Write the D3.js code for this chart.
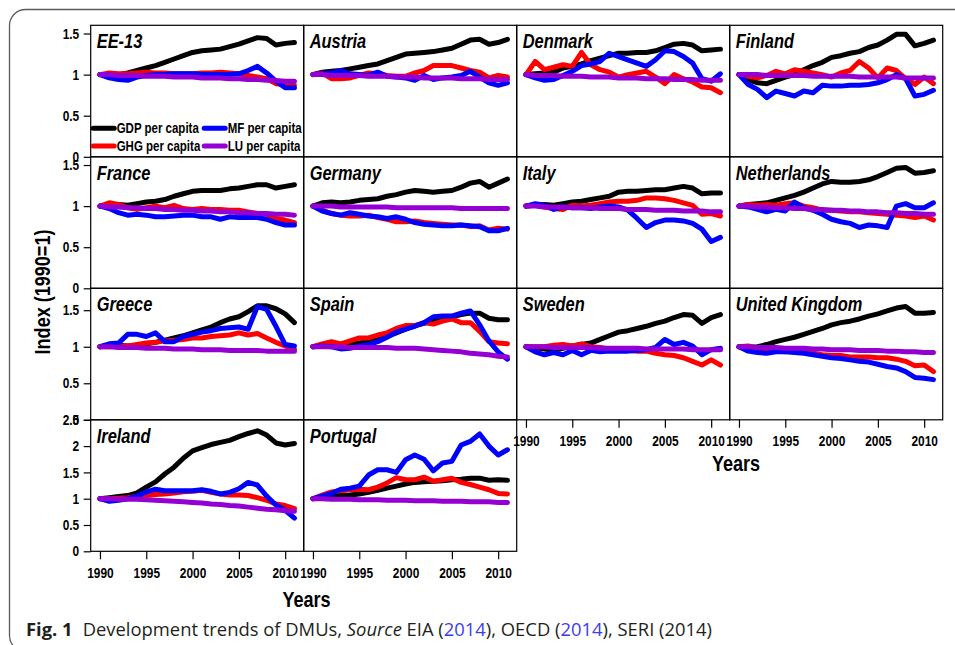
<!DOCTYPE html>
<html>
<head>
<meta charset="utf-8">
<script src="https://cdn.jsdelivr.net/npm/d3@7"></script>
<style>
  html, body { margin: 0; padding: 0; background: #fff; }
  svg { display: block; }
  .narrow { font-family: 'Liberation Sans', Arial, sans-serif; font-weight: bold; }
</style>
</head>
<body>
<svg id="chart" width="955" height="645"></svg>
<script>
const years = [1990, 1991, 1992, 1993, 1994, 1995, 1996, 1997, 1998, 1999, 2000,
  2001, 2002, 2003, 2004, 2005, 2006, 2007, 2008, 2009, 2010, 2011];

const countries = ['EE-13', 'Austria', 'Denmark', 'Finland',
  'France', 'Germany', 'Italy', 'Netherlands',
  'Greece', 'Spain', 'Sweden', 'United Kingdom',
  'Ireland', 'Portugal'];

// one row per country, same order as countries
const gdpPerCapita = [
  [1.00, 1.00, 1.00, 1.02, 1.05, 1.08, 1.11, 1.15, 1.19, 1.23, 1.27, 1.29, 1.30, 1.31, 1.34, 1.37, 1.41, 1.45, 1.44, 1.36, 1.38, 1.39],
  [1.00, 1.03, 1.04, 1.05, 1.07, 1.09, 1.11, 1.13, 1.17, 1.21, 1.25, 1.26, 1.27, 1.28, 1.30, 1.32, 1.37, 1.42, 1.43, 1.37, 1.39, 1.43],
  [1.00, 1.01, 1.02, 1.03, 1.08, 1.10, 1.13, 1.17, 1.20, 1.23, 1.26, 1.26, 1.27, 1.27, 1.29, 1.33, 1.37, 1.38, 1.36, 1.29, 1.30, 1.31],
  [1.00, 0.94, 0.90, 0.89, 0.93, 0.97, 1.00, 1.06, 1.11, 1.15, 1.21, 1.23, 1.26, 1.28, 1.33, 1.36, 1.42, 1.49, 1.49, 1.35, 1.38, 1.42],
  [1.00, 1.01, 1.02, 1.01, 1.03, 1.05, 1.06, 1.08, 1.12, 1.15, 1.18, 1.19, 1.19, 1.19, 1.21, 1.22, 1.24, 1.26, 1.26, 1.22, 1.24, 1.26],
  [1.00, 1.04, 1.05, 1.04, 1.05, 1.07, 1.08, 1.09, 1.12, 1.14, 1.17, 1.19, 1.18, 1.17, 1.18, 1.19, 1.23, 1.28, 1.30, 1.23, 1.28, 1.33],
  [1.00, 1.01, 1.02, 1.01, 1.03, 1.05, 1.06, 1.08, 1.10, 1.12, 1.17, 1.18, 1.18, 1.19, 1.20, 1.20, 1.22, 1.24, 1.22, 1.15, 1.16, 1.16],
  [1.00, 1.02, 1.03, 1.04, 1.07, 1.10, 1.13, 1.17, 1.22, 1.27, 1.30, 1.29, 1.29, 1.30, 1.32, 1.36, 1.41, 1.46, 1.47, 1.40, 1.41, 1.43],
  [1.00, 1.02, 1.02, 1.01, 1.02, 1.04, 1.06, 1.09, 1.12, 1.15, 1.19, 1.23, 1.27, 1.33, 1.38, 1.41, 1.48, 1.56, 1.56, 1.52, 1.45, 1.33],
  [1.00, 1.02, 1.02, 1.01, 1.03, 1.05, 1.07, 1.10, 1.14, 1.19, 1.24, 1.29, 1.32, 1.35, 1.38, 1.41, 1.44, 1.46, 1.46, 1.39, 1.37, 1.37],
  [1.00, 0.99, 0.97, 0.95, 0.98, 1.01, 1.03, 1.05, 1.10, 1.15, 1.20, 1.22, 1.25, 1.28, 1.32, 1.35, 1.40, 1.44, 1.43, 1.32, 1.40, 1.44],
  [1.00, 0.99, 1.00, 1.03, 1.07, 1.10, 1.13, 1.17, 1.21, 1.25, 1.30, 1.33, 1.35, 1.38, 1.42, 1.45, 1.49, 1.53, 1.55, 1.46, 1.46, 1.47],
  [1.00, 1.02, 1.04, 1.06, 1.11, 1.22, 1.32, 1.47, 1.60, 1.77, 1.91, 1.97, 2.03, 2.07, 2.11, 2.18, 2.24, 2.29, 2.21, 2.06, 2.02, 2.05],
  [1.00, 1.03, 1.05, 1.06, 1.07, 1.09, 1.12, 1.16, 1.20, 1.24, 1.28, 1.31, 1.32, 1.33, 1.34, 1.36, 1.37, 1.39, 1.39, 1.35, 1.36, 1.35]
];

const ghgPerCapita = [
  [1.00, 1.02, 1.01, 1.01, 1.02, 1.03, 1.02, 1.02, 1.01, 1.01, 1.01, 1.02, 1.02, 1.03, 1.02, 1.01, 0.99, 0.97, 0.95, 0.89, 0.88, 0.87],
  [1.00, 1.02, 0.95, 0.95, 0.96, 0.99, 1.02, 1.01, 0.99, 0.98, 0.98, 1.02, 1.05, 1.11, 1.11, 1.11, 1.08, 1.05, 1.03, 0.96, 0.99, 0.97],
  [1.00, 1.16, 1.06, 1.09, 1.12, 1.10, 1.27, 1.12, 1.06, 1.03, 0.97, 1.00, 1.02, 1.04, 0.97, 0.89, 1.00, 0.95, 0.91, 0.85, 0.84, 0.78],
  [1.00, 0.98, 0.96, 0.99, 1.04, 1.01, 1.06, 1.04, 1.02, 1.00, 0.97, 1.02, 1.05, 1.16, 1.08, 0.96, 1.08, 1.05, 0.95, 0.88, 0.97, 0.89],
  [1.00, 1.04, 1.02, 0.98, 0.96, 0.98, 1.00, 0.98, 1.01, 0.97, 0.96, 0.97, 0.96, 0.96, 0.95, 0.95, 0.93, 0.91, 0.90, 0.85, 0.83, 0.80],
  [1.00, 0.95, 0.91, 0.89, 0.88, 0.88, 0.89, 0.86, 0.84, 0.81, 0.81, 0.82, 0.80, 0.79, 0.78, 0.77, 0.77, 0.75, 0.76, 0.71, 0.73, 0.72],
  [1.00, 1.01, 0.99, 0.97, 0.96, 1.01, 1.00, 1.01, 1.03, 1.05, 1.06, 1.06, 1.07, 1.10, 1.10, 1.09, 1.07, 1.04, 1.01, 0.90, 0.91, 0.88],
  [1.00, 1.02, 1.01, 1.02, 1.01, 1.03, 1.04, 1.00, 0.98, 0.95, 0.95, 0.94, 0.93, 0.93, 0.92, 0.91, 0.90, 0.89, 0.88, 0.86, 0.88, 0.83],
  [1.00, 1.00, 1.01, 1.01, 1.03, 1.05, 1.06, 1.08, 1.09, 1.10, 1.12, 1.12, 1.14, 1.15, 1.16, 1.19, 1.16, 1.18, 1.12, 1.06, 1.01, 0.96],
  [1.00, 1.04, 1.07, 1.04, 1.08, 1.12, 1.12, 1.16, 1.19, 1.25, 1.29, 1.29, 1.33, 1.31, 1.35, 1.38, 1.33, 1.33, 1.21, 1.07, 1.05, 1.04],
  [1.00, 1.00, 1.00, 1.02, 1.03, 1.01, 1.04, 1.00, 0.99, 0.97, 0.96, 0.95, 0.94, 0.94, 0.91, 0.89, 0.88, 0.85, 0.80, 0.75, 0.82, 0.75],
  [1.00, 1.01, 0.98, 0.96, 0.94, 0.93, 0.95, 0.92, 0.91, 0.89, 0.88, 0.88, 0.86, 0.86, 0.86, 0.85, 0.85, 0.83, 0.80, 0.74, 0.75, 0.66],
  [1.00, 1.00, 1.01, 1.02, 1.04, 1.06, 1.08, 1.09, 1.11, 1.13, 1.14, 1.16, 1.12, 1.09, 1.07, 1.07, 1.06, 1.02, 0.97, 0.90, 0.87, 0.81],
  [1.00, 1.07, 1.13, 1.15, 1.17, 1.18, 1.17, 1.22, 1.30, 1.40, 1.36, 1.36, 1.41, 1.33, 1.36, 1.39, 1.31, 1.27, 1.22, 1.17, 1.10, 1.09]
];

const mfPerCapita = [
  [1.00, 0.96, 0.94, 0.93, 0.97, 0.99, 1.00, 1.00, 1.01, 1.01, 1.01, 1.00, 1.00, 1.00, 1.00, 1.01, 1.05, 1.10, 1.02, 0.92, 0.84, 0.84],
  [1.00, 1.01, 1.02, 1.05, 1.01, 1.00, 0.99, 1.03, 0.98, 0.97, 0.96, 0.93, 0.99, 0.94, 0.96, 0.97, 0.99, 1.04, 0.97, 0.90, 0.87, 0.90],
  [1.00, 0.96, 0.93, 0.94, 0.99, 1.04, 1.11, 1.13, 1.16, 1.26, 1.22, 1.18, 1.14, 1.10, 1.18, 1.29, 1.28, 1.22, 1.14, 0.95, 0.92, 1.01],
  [1.00, 0.88, 0.82, 0.72, 0.80, 0.77, 0.74, 0.80, 0.78, 0.87, 0.86, 0.86, 0.87, 0.87, 0.88, 0.90, 0.94, 1.00, 0.95, 0.74, 0.76, 0.81],
  [1.00, 0.97, 0.92, 0.89, 0.90, 0.89, 0.87, 0.87, 0.88, 0.89, 0.89, 0.87, 0.87, 0.84, 0.87, 0.86, 0.86, 0.86, 0.84, 0.80, 0.77, 0.77],
  [1.00, 0.94, 0.91, 0.89, 0.92, 0.90, 0.88, 0.87, 0.85, 0.87, 0.84, 0.80, 0.78, 0.77, 0.76, 0.76, 0.77, 0.76, 0.75, 0.70, 0.70, 0.73],
  [1.00, 1.03, 1.01, 0.96, 0.99, 0.98, 0.98, 0.97, 0.99, 1.00, 0.99, 0.95, 0.85, 0.74, 0.80, 0.83, 0.83, 0.82, 0.79, 0.72, 0.57, 0.62],
  [1.00, 0.99, 0.96, 0.93, 0.96, 0.94, 1.05, 0.98, 0.95, 0.90, 0.84, 0.81, 0.79, 0.74, 0.77, 0.76, 0.74, 1.00, 1.03, 0.98, 0.98, 1.04],
  [1.00, 1.04, 1.05, 1.17, 1.17, 1.14, 1.19, 1.07, 1.07, 1.14, 1.17, 1.20, 1.22, 1.25, 1.26, 1.27, 1.24, 1.55, 1.51, 1.28, 1.03, 1.01],
  [1.00, 1.01, 1.00, 0.97, 0.98, 1.01, 1.03, 1.07, 1.13, 1.20, 1.24, 1.28, 1.33, 1.41, 1.42, 1.42, 1.46, 1.49, 1.30, 1.08, 0.93, 0.83],
  [1.00, 0.93, 0.89, 0.92, 0.89, 0.95, 0.89, 0.95, 0.93, 0.94, 0.94, 0.94, 0.95, 0.96, 0.99, 1.10, 1.03, 1.06, 1.01, 0.89, 0.96, 0.98],
  [1.00, 0.94, 0.92, 0.91, 0.93, 0.93, 0.92, 0.91, 0.89, 0.87, 0.85, 0.84, 0.82, 0.80, 0.79, 0.76, 0.73, 0.71, 0.66, 0.58, 0.57, 0.55],
  [1.00, 0.95, 0.97, 1.00, 1.05, 1.13, 1.18, 1.15, 1.15, 1.15, 1.15, 1.17, 1.14, 1.09, 1.12, 1.19, 1.31, 1.26, 1.05, 0.88, 0.78, 0.63],
  [1.00, 1.05, 1.10, 1.18, 1.20, 1.24, 1.45, 1.55, 1.55, 1.50, 1.74, 1.83, 1.75, 1.53, 1.68, 1.71, 2.02, 2.09, 2.23, 2.00, 1.83, 1.93]
];

const luPerCapita = [
  [1.00, 1.00, 0.99, 0.99, 0.99, 0.98, 0.98, 0.98, 0.97, 0.97, 0.97, 0.96, 0.96, 0.96, 0.95, 0.95, 0.94, 0.94, 0.93, 0.93, 0.92, 0.92],
  [1.00, 1.00, 0.99, 0.99, 0.99, 0.99, 0.98, 0.98, 0.98, 0.97, 0.97, 0.97, 0.96, 0.96, 0.96, 0.96, 0.95, 0.95, 0.95, 0.94, 0.94, 0.94],
  [1.00, 0.99, 0.99, 0.99, 0.98, 0.98, 0.98, 0.97, 0.97, 0.97, 0.96, 0.96, 0.96, 0.95, 0.95, 0.95, 0.94, 0.94, 0.94, 0.93, 0.93, 0.93],
  [1.00, 1.00, 1.00, 0.99, 0.99, 0.99, 0.99, 0.99, 0.98, 0.98, 0.98, 0.98, 0.98, 0.97, 0.97, 0.97, 0.97, 0.97, 0.96, 0.96, 0.96, 0.96],
  [1.00, 0.99, 0.99, 0.98, 0.98, 0.97, 0.97, 0.96, 0.96, 0.95, 0.95, 0.94, 0.94, 0.93, 0.93, 0.92, 0.92, 0.91, 0.91, 0.90, 0.90, 0.89],
  [1.00, 1.00, 1.00, 0.99, 0.99, 0.99, 0.99, 0.99, 0.99, 0.98, 0.98, 0.98, 0.98, 0.98, 0.98, 0.98, 0.97, 0.97, 0.97, 0.97, 0.97, 0.97],
  [1.00, 1.00, 0.99, 0.99, 0.99, 0.98, 0.98, 0.98, 0.97, 0.97, 0.97, 0.96, 0.96, 0.96, 0.95, 0.95, 0.95, 0.94, 0.94, 0.94, 0.93, 0.93],
  [1.00, 1.00, 0.99, 0.99, 0.98, 0.98, 0.97, 0.97, 0.96, 0.96, 0.95, 0.95, 0.94, 0.94, 0.93, 0.93, 0.92, 0.92, 0.91, 0.91, 0.90, 0.90],
  [1.00, 1.00, 0.99, 0.99, 0.99, 0.98, 0.98, 0.98, 0.97, 0.97, 0.97, 0.96, 0.96, 0.96, 0.95, 0.95, 0.95, 0.95, 0.94, 0.94, 0.94, 0.94],
  [1.00, 1.00, 1.00, 1.00, 0.99, 0.99, 0.99, 0.99, 0.99, 0.98, 0.98, 0.98, 0.97, 0.96, 0.95, 0.94, 0.93, 0.91, 0.90, 0.89, 0.87, 0.86],
  [1.00, 1.00, 1.00, 0.99, 0.99, 0.99, 0.99, 0.99, 0.98, 0.98, 0.98, 0.98, 0.98, 0.97, 0.97, 0.97, 0.97, 0.97, 0.96, 0.96, 0.96, 0.96],
  [1.00, 1.00, 0.99, 0.99, 0.99, 0.98, 0.98, 0.98, 0.97, 0.97, 0.96, 0.96, 0.96, 0.95, 0.95, 0.95, 0.94, 0.94, 0.93, 0.93, 0.92, 0.92],
  [1.00, 1.00, 0.99, 0.99, 0.99, 0.98, 0.97, 0.96, 0.95, 0.94, 0.93, 0.92, 0.90, 0.89, 0.87, 0.86, 0.84, 0.82, 0.80, 0.79, 0.77, 0.76],
  [1.00, 1.00, 0.99, 0.99, 0.99, 0.98, 0.98, 0.98, 0.97, 0.97, 0.97, 0.96, 0.96, 0.96, 0.95, 0.95, 0.95, 0.94, 0.94, 0.94, 0.93, 0.93]
];

const seriesNames = ['GDP per capita', 'GHG per capita', 'MF per capita', 'LU per capita'];
const seriesColors = ['#000000', '#ff0000', '#0000ff', '#9400d3'];
const seriesData = [gdpPerCapita, ghgPerCapita, mfPerCapita, luPerCapita];

const rowMax = [1.6, 1.6, 1.8, 2.5];
const rowTicks = [[0, 0.5, 1, 1.5], [0, 0.5, 1, 1.5], [0, 0.5, 1, 1.5], [0, 0.5, 1, 1.5, 2, 2.5]];
const yearTicks = [1990, 1995, 2000, 2005, 2010];

// layout
const gridLeft = 90.7, gridTop = 25.3;
const cellW = 213, cellH = 131.5, nCols = 4;
const squeeze = 0.82; // the original uses a narrow bold face

const svg = d3.select('#chart');

// rounded outer figure frame
svg.append('rect')
  .attr('x', 9.5).attr('y', 9.5)
  .attr('width', 1000).attr('height', 642)
  .attr('rx', 16)
  .attr('fill', 'none')
  .attr('stroke', '#5a5a5a')
  .attr('stroke-width', 1.3);

const line = d3.line().curve(d3.curveLinear);

countries.forEach((name, i) => {
  const col = i % nCols;
  const row = Math.floor(i / nCols);
  const x0 = gridLeft + col * cellW;
  const y0 = gridTop + row * cellH;

  const x = d3.scaleLinear().domain([1989, 2012]).range([x0, x0 + cellW]);
  const y = d3.scaleLinear().domain([0, rowMax[row]]).range([y0 + cellH, y0]);

  const g = svg.append('g');

  g.append('rect')
    .attr('x', x0).attr('y', y0)
    .attr('width', cellW).attr('height', cellH)
    .attr('fill', 'none')
    .attr('stroke', '#000')
    .attr('stroke-width', 1.2);

  seriesData.forEach((s, k) => {
    g.append('path')
      .datum(s[i])
      .attr('fill', 'none')
      .attr('stroke', seriesColors[k])
      .attr('stroke-width', 5)
      .attr('stroke-linejoin', 'round')
      .attr('stroke-linecap', 'round')
      .attr('d', line.x((d, j) => x(years[j])).y(d => y(d)));
  });

  g.append('text')
    .attr('class', 'narrow')
    .attr('x', x0 + 6)
    .attr('y', y0 + 23)
    .attr('font-size', 20)
    .attr('font-style', 'italic')
    .text(name);

  if (col === 0) {
    const ya = svg.append('g')
      .attr('transform', `translate(${x0},0)`)
      .call(d3.axisLeft(y).tickValues(rowTicks[row]).tickSize(7).tickPadding(4.5)
        .tickFormat(d3.format('~g')));
    ya.select('.domain').remove();
    ya.selectAll('.tick line').attr('stroke', '#000').attr('stroke-width', 1.2);
    ya.selectAll('.tick text').attr('class', 'narrow').attr('font-size', 14.5).attr('fill', '#000');
  }

  if (i + nCols >= countries.length) {
    const xa = svg.append('g')
      .attr('transform', `translate(0,${y0 + cellH})`)
      .call(d3.axisBottom(x).tickValues(yearTicks).tickSize(8).tickPadding(8)
        .tickFormat(d3.format('d')));
    xa.select('.domain').remove();
    xa.selectAll('.tick line').attr('stroke', '#000').attr('stroke-width', 1.2);
    xa.selectAll('.tick text').attr('class', 'narrow').attr('font-size', 14.5).attr('fill', '#000');
  }

  // legend sits inside the first panel
  if (i === 0) {
    const lg = g.append('g');
    seriesNames.forEach((s, k) => {
      const lx = x0 + 2.5 + Math.floor(k / 2) * 111;
      const ly = y0 + 103 + (k % 2) * 17.7;
      lg.append('line')
        .attr('x1', lx).attr('x2', lx + 21)
        .attr('y1', ly).attr('y2', ly)
        .attr('stroke', seriesColors[k])
        .attr('stroke-width', 5)
        .attr('stroke-linecap', 'round');
      lg.append('text')
        .attr('class', 'narrow')
        .attr('x', lx + 23.5)
        .attr('y', ly)
        .attr('dy', '0.36em')
        .attr('font-size', 14)
        .text(s);
    });
  }
});

// axis titles
svg.append('text')
  .attr('class', 'narrow')
  .attr('x', 306.5).attr('y', 607)
  .attr('text-anchor', 'middle')
  .attr('font-size', 22)
  .text('Years');

svg.append('text')
  .attr('class', 'narrow')
  .attr('x', 736).attr('y', 471)
  .attr('text-anchor', 'middle')
  .attr('font-size', 22)
  .text('Years');

svg.append('text')
  .attr('class', 'narrow')
  .attr('transform', 'translate(50,292) rotate(-90)')
  .attr('text-anchor', 'middle')
  .attr('font-size', 22)
  .text('Index (1990=1)');

// squeeze the bold labels horizontally to get the narrow look
svg.selectAll('text.narrow').each(function () {
  const w = this.getComputedTextLength();
  d3.select(this)
    .attr('textLength', w * squeeze)
    .attr('lengthAdjust', 'spacingAndGlyphs');
});

// caption
const cap = svg.append('text')
  .attr('x', 26).attr('y', 636)
  .attr('font-family', "'Open Sans', 'Noto Sans', sans-serif")
  .attr('font-size', 18.4)
  .attr('fill', '#231f20');
cap.append('tspan').attr('font-weight', 'bold').text('Fig. 1');
cap.append('tspan').attr('dx', 10).text('Development trends of DMUs, ');
cap.append('tspan').attr('font-style', 'italic').text('Source');
cap.append('tspan').text(' EIA (');
cap.append('tspan').attr('fill', '#3d3df0').text('2014');
cap.append('tspan').text('), OECD (');
cap.append('tspan').attr('fill', '#3d3df0').text('2014');
cap.append('tspan').text('), SERI (2014)');
</script>
</body>
</html>
